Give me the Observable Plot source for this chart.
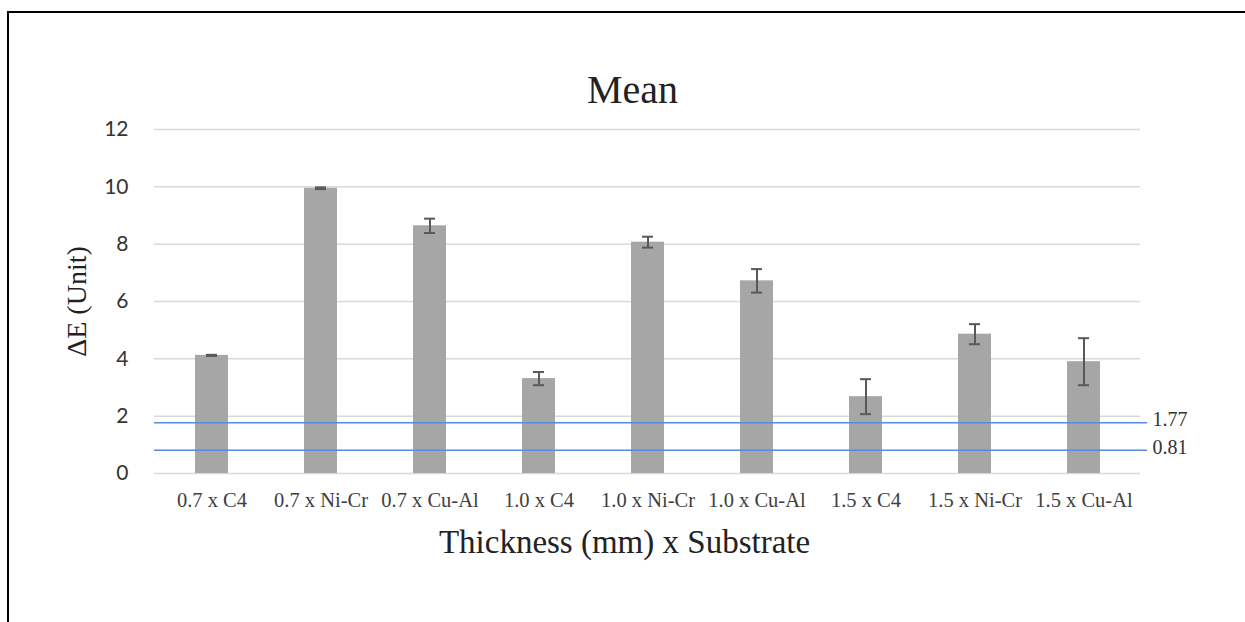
<!DOCTYPE html>
<html>
<head>
<meta charset="utf-8">
<script src="https://cdn.jsdelivr.net/npm/d3@7"></script>
<script src="https://cdn.jsdelivr.net/npm/@observablehq/plot@0.6"></script>
<style>
  html, body { margin: 0; padding: 0; background: #fff; }
  #wrap { position: relative; width: 1245px; height: 622px; overflow: hidden; }
  #frame { position: absolute; left: 7px; top: 11px; width: 1300px; height: 700px;
           border-top: 2px solid #000; border-left: 2px solid #000; box-sizing: border-box; }
  #chart { position: absolute; left: 0; top: 0; }
</style>
</head>
<body>
<div id="wrap">
  <div id="frame"></div>
  <div id="chart"></div>
</div>
<script>
const categories = ["0.7 x C4", "0.7 x Ni-Cr", "0.7 x Cu-Al", "1.0 x C4", "1.0 x Ni-Cr", "1.0 x Cu-Al", "1.5 x C4", "1.5 x Ni-Cr", "1.5 x Cu-Al"];
const means = [4.12, 9.95, 8.64, 3.31, 8.07, 6.72, 2.68, 4.86, 3.90];
const errors = [0.02, 0.03, 0.25, 0.23, 0.19, 0.41, 0.61, 0.35, 0.82];
const yTicks = [0, 2, 4, 6, 8, 10, 12];
const thresholdValues = [1.77, 0.81];
const thresholdLabels = ["1.77", "0.81"];
const title = "Mean";
const yLabel = "ΔE (Unit)";
const xLabel = "Thickness (mm) x Substrate";

const data = categories.map((c, i) => ({cat: c, mean: means[i], lo: means[i] - errors[i], hi: means[i] + errors[i]}));
const thresholds = thresholdValues.map((v, i) => ({v, label: thresholdLabels[i]}));

const serif = "'Liberation Serif', 'Times New Roman', serif";
const sans = "Lato, 'Open Sans', sans-serif";

const chart = Plot.plot({
  width: 1245,
  height: 622,
  marginLeft: 154,
  marginRight: 105,
  marginTop: 129,
  marginBottom: 149,
  style: {background: "transparent", overflow: "visible"},
  x: {domain: categories, paddingInner: 0.7, paddingOuter: 0.35, label: null},
  y: {domain: [0, 12], label: null},
  marks: [
    Plot.ruleY(yTicks, {stroke: "#d9d9d9", strokeWidth: 1.5}),
    Plot.barY(data, {x: "cat", y: "mean", fill: "#a6a6a6"}),
    Plot.ruleX(data, {x: "cat", y1: "lo", y2: "hi", stroke: "#595959", strokeWidth: 2}),
    Plot.tickY(data, {x: "cat", y: "hi", stroke: "#595959", strokeWidth: 2, insetLeft: 11, insetRight: 11}),
    Plot.tickY(data, {x: "cat", y: "lo", stroke: "#595959", strokeWidth: 2, insetLeft: 11, insetRight: 11}),
    Plot.ruleY(thresholds, {y: "v", stroke: "#5b8be0", strokeWidth: 1.6, insetRight: -7}),
    Plot.text(thresholds, {y: "v", text: "label", frameAnchor: "right", dx: 12, dy: -3, textAnchor: "start",
      lineAnchor: "middle", fontSize: 20, fontFamily: serif, fill: "#333"}),
    Plot.axisY(yTicks, {tickSize: 0, tickPadding: 26, fontSize: 21, fontFamily: sans, fill: "#333", label: null}),
    Plot.axisX({tickSize: 0, tickPadding: 19, fontSize: 20.5, fontFamily: serif, fill: "#404040", label: null}),
    Plot.text([yLabel], {frameAnchor: "left", dx: -77, rotate: -90, textAnchor: "middle", lineAnchor: "middle",
      fontSize: 28, fontFamily: serif, fill: "#222"}),
    Plot.text([xLabel], {frameAnchor: "bottom", dx: -23, dy: 69, textAnchor: "middle", lineAnchor: "middle",
      fontSize: 33, fontFamily: serif, fill: "#222"}),
    Plot.text([title], {frameAnchor: "top", dx: -15, dy: -39, textAnchor: "middle", lineAnchor: "middle",
      fontSize: 40, fontFamily: serif, fill: "#222"})
  ]
});
document.getElementById("chart").appendChild(chart);
</script>
</body>
</html>
